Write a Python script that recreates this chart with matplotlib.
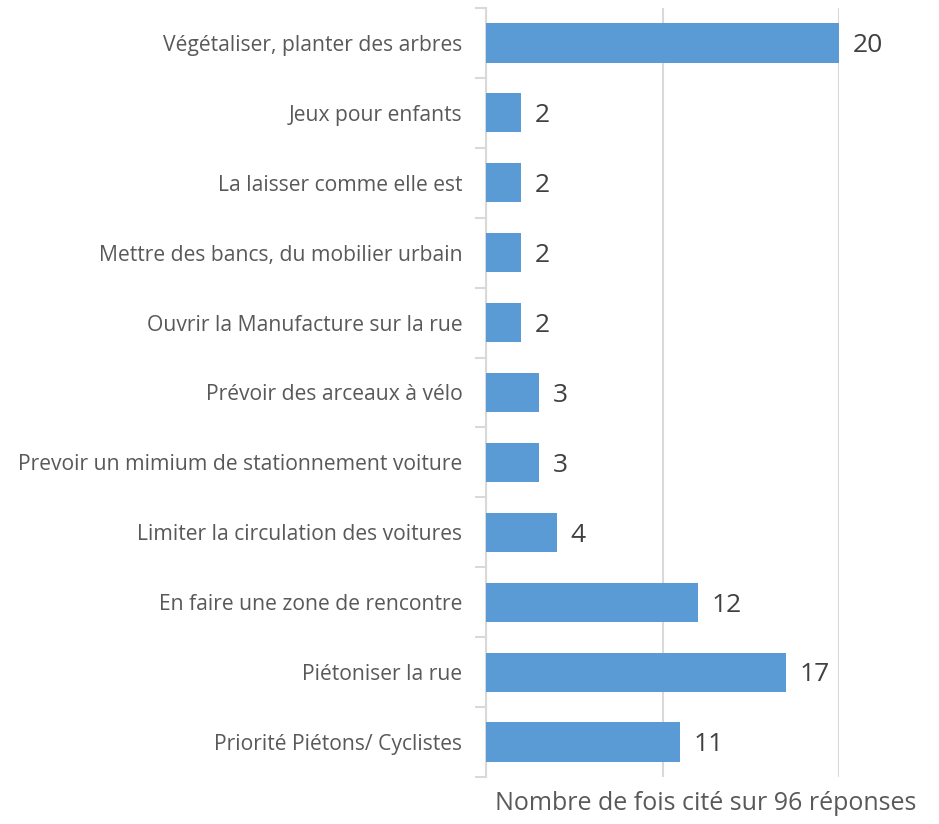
import matplotlib.pyplot as plt
import numpy as np

plt.rcParams['font.family'] = ['Open Sans', 'DejaVu Sans']

categories = ["Végétaliser, planter des arbres", "Jeux pour enfants",
              "La laisser comme elle est", "Mettre des bancs, du mobilier urbain",
              "Ouvrir la Manufacture sur la rue", "Prévoir des arceaux à vélo",
              "Prevoir un mimium de stationnement voiture",
              "Limiter la circulation des voitures", "En faire une zone de rencontre",
              "Piétoniser la rue", "Priorité Piétons/ Cyclistes"]
values = [20, 2, 2, 2, 2, 3, 3, 4, 12, 17, 11]

fig = plt.figure(figsize=(9.39, 8.24), dpi=100)
ax = fig.add_axes([486/939, 1 - 777/824, (839 - 486)/939, (777 - 8)/824])

y = np.arange(len(categories))
ax.barh(y, values, height=0.56, color='#5B9BD5', zorder=3)
ax.set_ylim(len(categories) - 0.5, -0.5)
ax.set_xlim(0, 20)

# gridlines
ax.set_xticks([0, 10, 20])
ax.set_xticklabels([])
ax.tick_params(axis='x', length=0)
ax.grid(axis='x', color='#d9d9d9', linewidth=1.5, zorder=0)

# category ticks between bars
ax.set_yticks(y)
ax.set_yticklabels(categories, fontsize=15.2, color='#595959')
ax.set_yticks(np.arange(-0.5, len(categories)), minor=True)
ax.tick_params(axis='y', which='major', length=0, pad=17)
ax.tick_params(axis='y', which='minor', length=8, color='#d9d9d9', width=1.5)

for s in ['top', 'right', 'bottom']:
    ax.spines[s].set_visible(False)
ax.spines['left'].set_color('#d9d9d9')
ax.spines['left'].set_linewidth(1.5)

for yi, v in zip(y, values):
    ax.annotate(str(v), (v, yi), xytext=(10, -2), textcoords='offset points',
                va='center', ha='left', fontsize=19, color='#404040')

fig.text(706/939, 1 - 803/824, "Nombre de fois cité sur 96 réponses",
         ha='center', va='center', fontsize=18, color='#595959')

fig.savefig('out.png', dpi=100)
